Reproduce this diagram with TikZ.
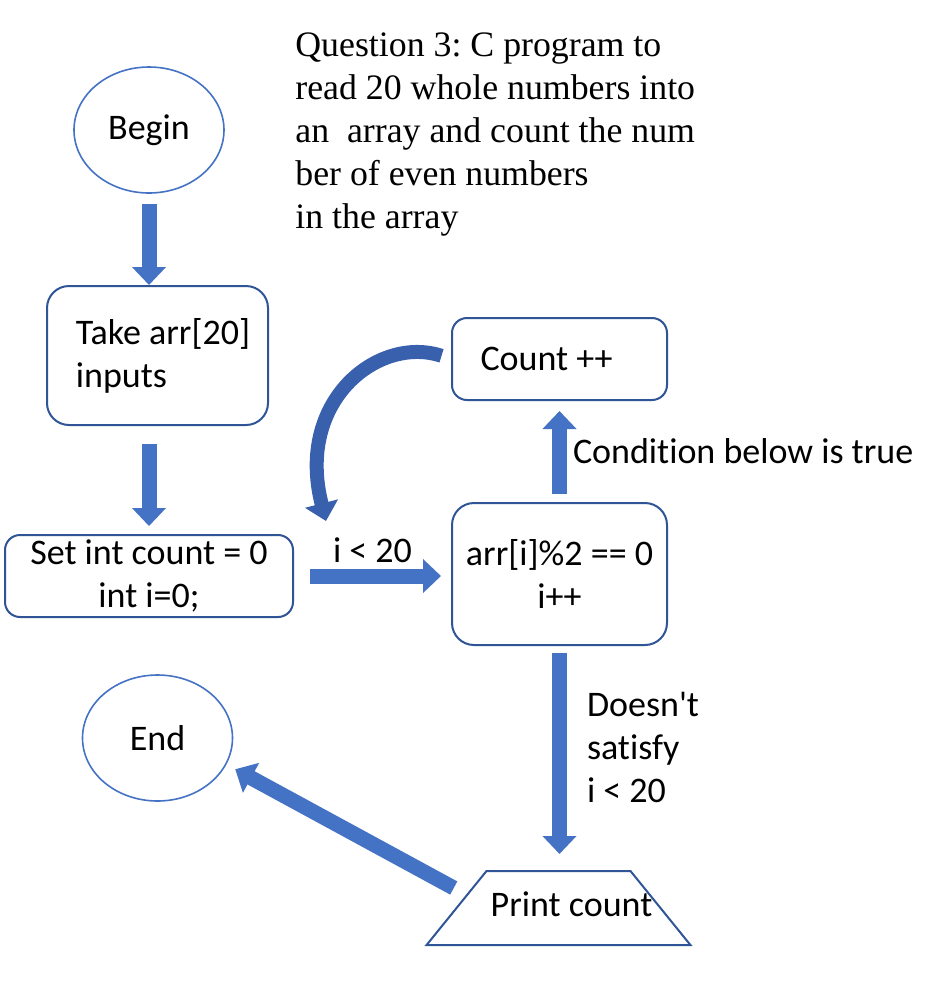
\documentclass[tikz,border=0pt]{standalone}
\usepackage{fontspec}
\setmainfont{Carlito}[Ligatures=NoCommon]
\newfontfamily\titlefont{Liberation Serif}
\usepackage{tikz}
\usetikzlibrary{
  arrows.meta,
  positioning,
  shapes.geometric,
  calc
}
\definecolor{boxblue}{RGB}{47,85,151}
\definecolor{ovalblue}{RGB}{68,114,196}
\definecolor{arrowblue}{RGB}{68,114,196}
\definecolor{curveblue}{RGB}{56,96,172}

\begin{document}
\begin{tikzpicture}[
    x=0.5pt, y=0.5pt,
    term/.style={
      ellipse, draw=ovalblue, line width=0.8pt, fill=white,
      minimum width=75pt, minimum height=63pt, inner sep=0pt,
      font=\fontsize{18}{21.5}\selectfont
    },
    proc/.style={
      rectangle, rounded corners=11pt, draw=boxblue, line width=1pt,
      fill=white, inner sep=0pt,
      font=\fontsize{18}{21.5}\selectfont
    },
    prnt/.style={
      trapezium, trapezium left angle=51, trapezium right angle=51,
      draw=boxblue, line width=1pt,
      text height=12pt, text depth=4pt,
      inner xsep=0pt, inner ysep=10.5pt,
      font=\fontsize{18}{21.5}\selectfont
    },
    blk/.style={
      draw=arrowblue, line width=7.5pt,
      -{Triangle[width=16.5pt, length=9pt]}
    },
    lbl/.style={
      inner sep=1pt, font=\fontsize{18}{21.5}\selectfont
    }
  ]
  \useasboundingbox (0,0) rectangle (940,-987);

  %% Title text
  \node[anchor=north west, inner sep=0pt, align=left,
        font=\titlefont\fontsize{17.9}{21.5}\selectfont\frenchspacing] (ttl) at (295,-32)
    {Question 3: C program to\\
     read 20 whole numbers into\\
     an\ \ array and count the num\\
     ber of even numbers\\
     in the array};

  %% Flow chart nodes
  \node[term] (begin) at (149,-130) {Begin};
  \node[proc, minimum width=110.5pt, minimum height=69.5pt, align=left]
    (take) at (157.5,-355.5) {\hspace*{5.5pt}Take arr[20]\\\hspace*{5.5pt}inputs};
  \node[proc, rounded corners=7.5pt, minimum width=144pt, minimum height=41pt,
        align=center] (set) at (149,-576) {Set int count = 0\\int i=0;};
  \node[proc, minimum width=107.5pt, minimum height=71pt, align=center]
    (arr) at (559.5,-574) {arr[i]\%2 == 0\\i++};
  \node[proc, rounded corners=7.5pt, minimum width=107.5pt, minimum height=41pt]
    (cnt) at (559.5,-359) {\hspace*{-6.5pt}Count ++\hspace*{6.5pt}};
  \node[term] (end) at (157.5,-738) {End};
  \node[prnt] (prt) at (558.5,-908) {\makebox[72pt]{\hspace*{13pt}Print count}};

  \coordinate (loopin) at (326,-521);

  %% Connectors
  \draw[blk, shorten <=5pt] (begin.south) -- (begin.south |- take.north);
  \draw[blk, shorten <=9pt, shorten >=4pt]
    (begin.south |- take.south) -- (begin.south |- set.north);
  \draw[blk, shorten <=8pt, shorten >=5pt] (set.east) -- (set.east -| arr.west)
    node[lbl, midway, yshift=13pt] {i < 20};
  \draw[blk, shorten <=4pt, shorten >=5pt] (arr.north) -- (cnt.south)
    node[lbl, midway, right=2pt] {Condition below is true};
  \draw[blk, shorten <=3.5pt, shorten >=8pt] (arr.south) -- (arr.south |- prt.north)
    node[lbl, midway, right=9pt, yshift=5.5pt, align=left]
    {Doesn\textquotesingle t\\satisfy\\i < 20};
  \draw[blk, shorten >=5pt] ($(prt.west)+(-1.5,20)$) -- (end.-21);

  %% Loop back from Count ++
  \draw[blk, draw=curveblue, line width=7pt, shorten <=5pt]
    (cnt.west) .. controls ($(cnt.west)+(-72,24)$) and ($(loopin)+(-31,121)$) .. (loopin);

\end{tikzpicture}
\end{document}
